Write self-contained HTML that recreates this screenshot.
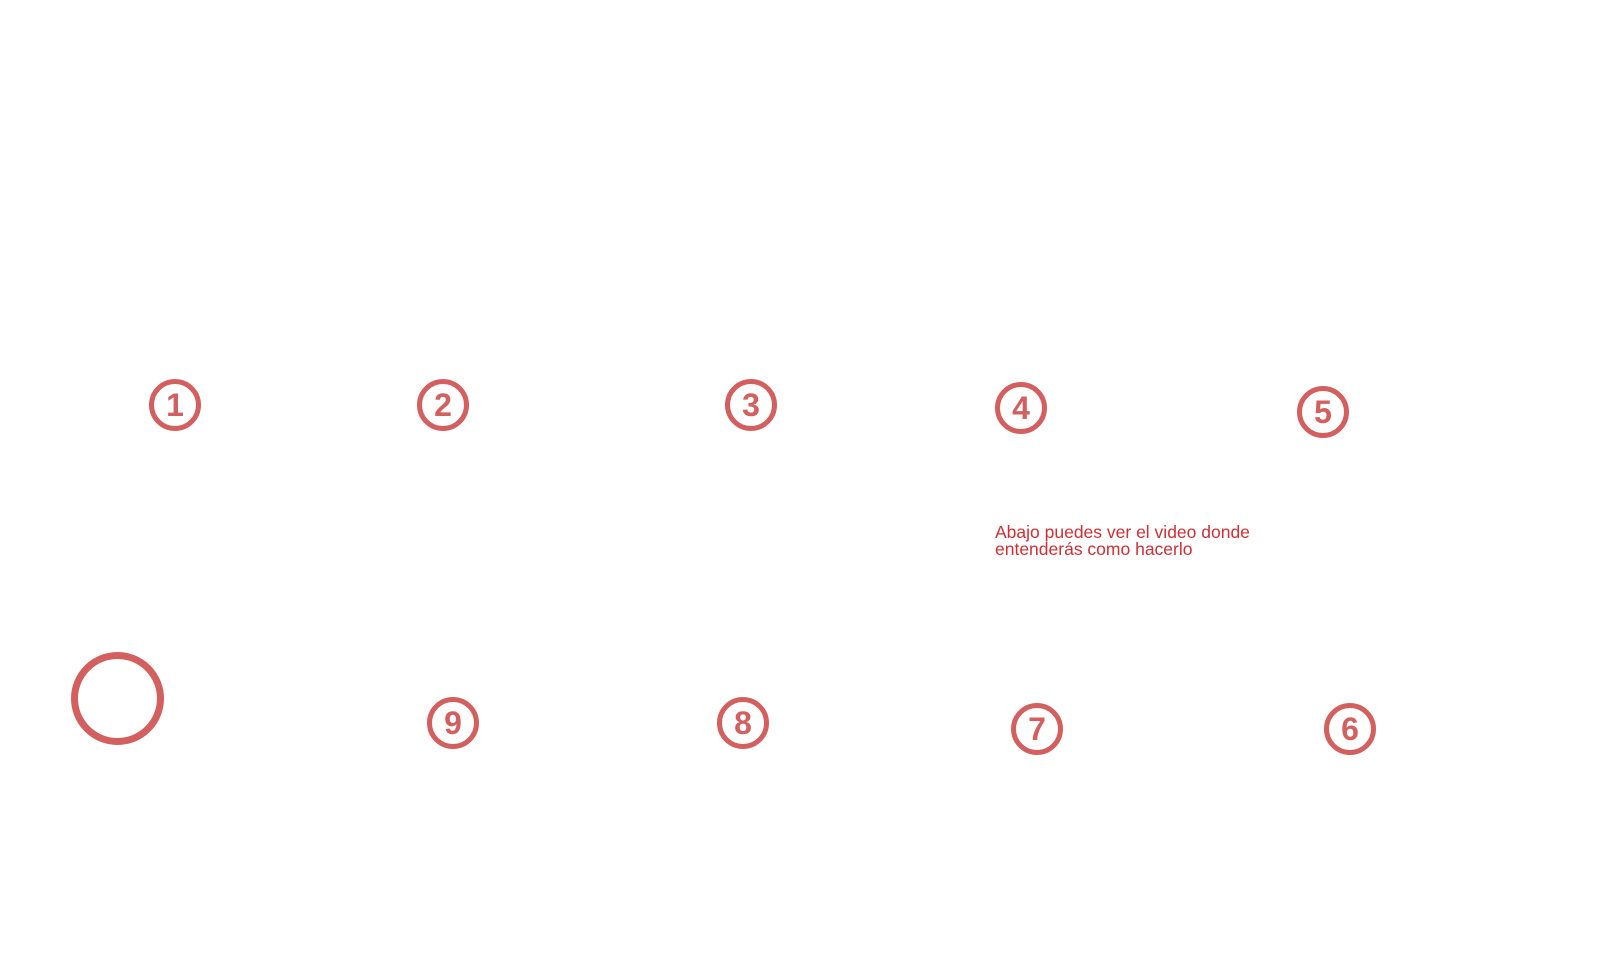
<!DOCTYPE html>
<html><head><meta charset="utf-8"><style>
body{margin:0;width:1600px;height:953px;background:#fff;position:relative;overflow:hidden;font-family:"Liberation Sans",sans-serif}
.c{position:absolute;width:52px;height:52px;border:5px solid #d45f5f;border-radius:50%;box-sizing:border-box;color:#d45f5f;font-weight:bold;text-align:center;font-size:32px;line-height:42px}
.w{position:absolute;color:#fff;font-size:14px}
.r{position:absolute;left:995px;top:524px;color:#d12f33;font-size:17.5px;line-height:16.5px}
</style></head><body>
<div class="w" style="left:266px;top:118px;font-size:51px;font-weight:bold">PASO A PASO PARA LA REPARACIÓN<br>DE TU BATERIA</div>
<div class="c" style="left:149px;top:379px">1</div>
<div class="c" style="left:417px;top:379px">2</div>
<div class="c" style="left:725px;top:379px">3</div>
<div class="c" style="left:995px;top:382px">4</div>
<div class="c" style="left:1297px;top:386px">5</div>
<div class="c" style="left:1324px;top:703px">6</div>
<div class="c" style="left:1011px;top:703px">7</div>
<div class="c" style="left:717px;top:697px">8</div>
<div class="c" style="left:427px;top:697px">9</div>
<div class="c" style="left:71px;top:652px;width:93px;height:93px;border-width:7px;color:#fff;font-size:46px;line-height:79px;font-weight:normal">10</div>
<div class="r">Abajo puedes ver el video donde<br>entenderás como hacerlo</div>
</body></html>
